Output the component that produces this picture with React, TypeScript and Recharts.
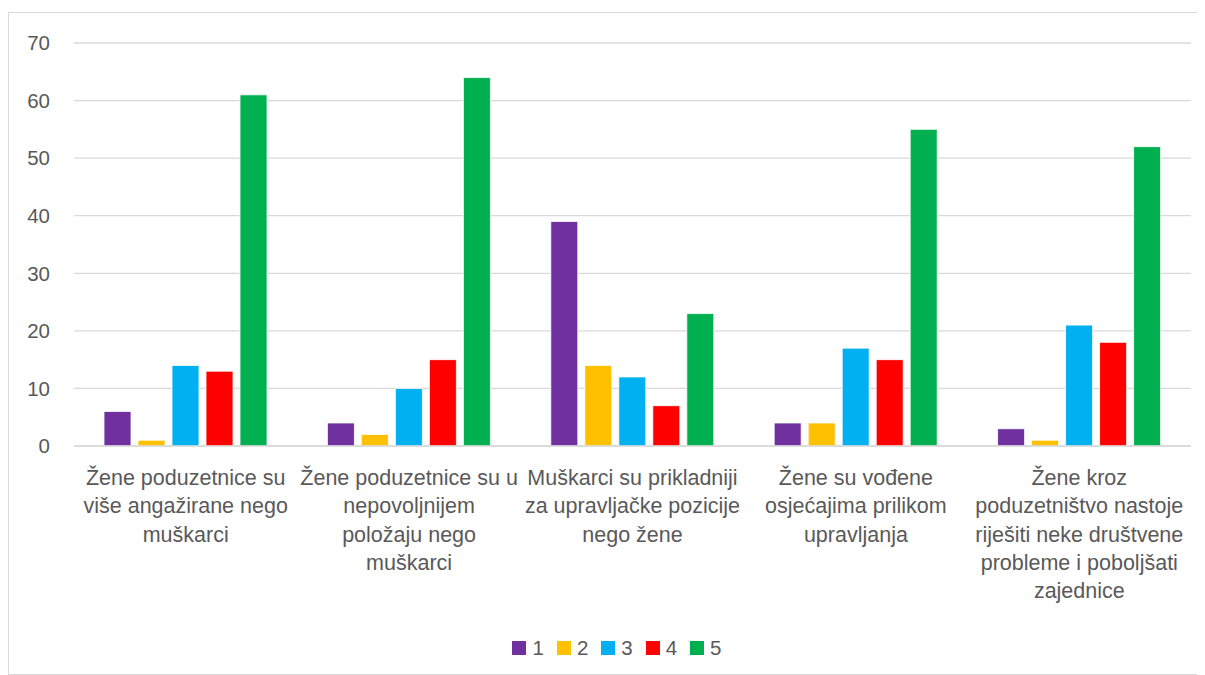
import { Bar, BarChart, CartesianGrid, Legend, XAxis, YAxis } from "recharts";

const categories = [
  "Žene poduzetnice su\nviše angažirane nego\nmuškarci",
  "Žene poduzetnice su u\nnepovoljnijem\npoložaju nego\nmuškarci",
  "Muškarci su prikladniji\nza upravljačke pozicije\nnego žene",
  "Žene su vođene\nosjećajima prilikom\nupravljanja",
  "Žene kroz\npoduzetništvo nastoje\nriješiti neke društvene\nprobleme i poboljšati\nzajednice",
];

const series1 = [6, 4, 39, 4, 3];
const series2 = [1, 2, 14, 4, 1];
const series3 = [14, 10, 12, 17, 21];
const series4 = [13, 15, 7, 15, 18];
const series5 = [61, 64, 23, 55, 52];

const yTicks = [0, 10, 20, 30, 40, 50, 60, 70];

const seriesList = [
  { key: "1", values: series1, color: "#7030A0" },
  { key: "2", values: series2, color: "#FFC000" },
  { key: "3", values: series3, color: "#00B0F0" },
  { key: "4", values: series4, color: "#FF0000" },
  { key: "5", values: series5, color: "#00B050" },
];

const data = categories.map((label, i) => {
  const row: Record<string, string | number> = { label };
  for (const s of seriesList) row[s.key] = s.values[i];
  return row;
});

const FONT = "'Liberation Sans', Arial, sans-serif";
const TEXT = "#595959";

function CategoryTick({ x, y, payload }: any) {
  const lines = String(payload.value).split("\n");
  return (
    <text x={x} y={y} textAnchor="middle" fill={TEXT} fontSize={21.5} fontFamily={FONT}>
      {lines.map((line, i) => (
        <tspan key={i} x={x} dy={i === 0 ? 31 : 28.3}>
          {line}
        </tspan>
      ))}
    </text>
  );
}

function LegendContent() {
  return (
    <div
      style={{
        height: 24,
        display: "flex",
        justifyContent: "center",
        alignItems: "center",
        gap: 13,
        fontFamily: FONT,
        fontSize: 20.5,
        color: TEXT,
        paddingLeft: 34,
      }}
    >
      {seriesList.map((s) => (
        <span key={s.key} style={{ display: "flex", alignItems: "center", gap: 6 }}>
          <span style={{ width: 14, height: 14, background: s.color, display: "inline-block" }} />
          {s.key}
        </span>
      ))}
    </div>
  );
}

export default function App() {
  return (
    <div
      style={{
        marginTop: 4,
        width: 1197,
        height: 663,
        border: "1px solid #d9d9d9",
        boxSizing: "border-box",
        background: "#fff",
      }}
    >
      <style>{`body{overflow:hidden}`}</style>
      <BarChart
        width={1197}
        height={663}
        data={data}
        margin={{ top: 30, right: 15, bottom: 16, left: 0 }}
        barCategoryGap={30}
        barGap={7}
      >
        <CartesianGrid vertical={false} stroke="#d9d9d9" strokeWidth={1.3} />
        <XAxis
          dataKey="label"
          height={190}
          interval={0}
          tickLine={false}
          axisLine={{ stroke: "#d9d9d9", strokeWidth: 1.5 }}
          tick={<CategoryTick />}
        />
        <YAxis
          domain={[0, 70]}
          ticks={yTicks}
          width={65}
          tickLine={false}
          tickSize={0}
          tickMargin={24}
          axisLine={false}
          tick={{ fill: TEXT, fontSize: 20.5, fontFamily: FONT }}
        />
        <Legend verticalAlign="bottom" content={<LegendContent />} />
        {seriesList.map((s) => (
          <Bar
            key={s.key}
            dataKey={s.key}
            fill={s.color}
            stroke="#ffffff"
            strokeWidth={0.8}
            isAnimationActive={false}
          />
        ))}
      </BarChart>
    </div>
  );
}
